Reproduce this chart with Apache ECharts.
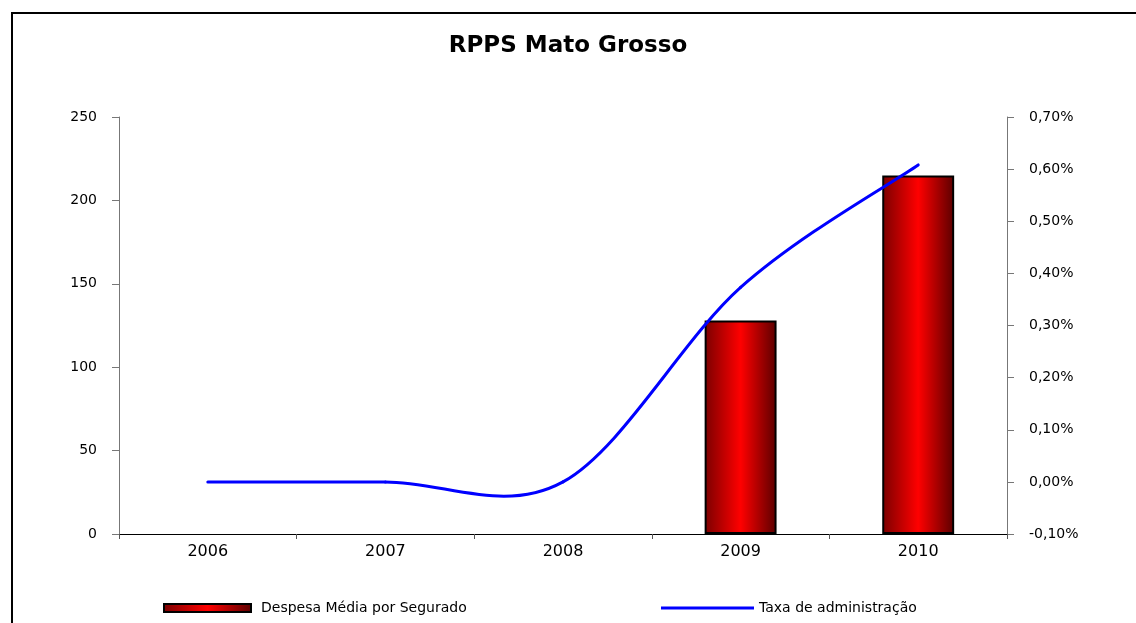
<!DOCTYPE html>
<html>
<head>
<meta charset="utf-8">
<title>RPPS Mato Grosso</title>
<script src="https://cdn.jsdelivr.net/npm/echarts@6/dist/echarts.min.js"></script>
<style>
    html, body { margin: 0; padding: 0; background: #fff; }
    #chart { width: 1136px; height: 623px; }
</style>
</head>
<body>
<div id="chart"></div>
<script>
    // dados
    var anos = ['2006', '2007', '2008', '2009', '2010'];
    var despesaMedia = [null, null, null, 128, 215];
    var taxaAdm = [0.00, 0.00, 0.00, 0.373, 0.608];   // em %

    var nomeBarra = 'Despesa Média por Segurado';
    var nomeLinha = 'Taxa de administração';
    var fonte = 'DejaVu Sans';

    /*
    * curva suavizada (estilo Excel) passando pelos pontos da taxa
    */
    function desenhaCurva(params, api) {
        if (params.dataIndex !== 0) return null;
        var p = taxaAdm.map(function (v, i) { return api.coord([i, v]); });
        var partes = [];
        for (var i = 0; i < p.length - 1; i++) {
            var a = p[i - 1] || p[i], b = p[i], c = p[i + 1], d = p[i + 2] || p[i + 1];
            partes.push({
                type: 'bezierCurve',
                shape: {
                    x1: b[0], y1: b[1], x2: c[0], y2: c[1],
                    cpx1: b[0] + (c[0] - a[0]) / 6, cpy1: b[1] + (c[1] - a[1]) / 6,
                    cpx2: c[0] - (d[0] - b[0]) / 6, cpy2: c[1] - (d[1] - b[1]) / 6
                },
                style: { stroke: '#0000ff', lineWidth: 3, fill: 'none', lineCap: 'round' }
            });
        }
        return { type: 'group', children: partes };
    }

    var corBarra = new echarts.graphic.LinearGradient(0, 0, 1, 0, [
        { offset: 0, color: '#7a0000' },
        { offset: 0.5, color: '#ff0000' },
        { offset: 1, color: '#5a0000' }
    ]);

    var option = {
        animation: false,
        title: {
            text: 'RPPS Mato Grosso',
            left: 'center',
            top: 30,
            textStyle: { fontFamily: fonte, fontSize: 23, fontWeight: 'bold', color: '#000' }
        },
        graphic: [{
            type: 'rect',
            silent: true,
            z: -1,
            shape: { x: 12, y: 13, width: 1300, height: 800 },
            style: { fill: 'none', stroke: '#000', lineWidth: 2 }
        }],
        grid: { left: 119, top: 117, width: 888, height: 417 },
        legend: [
            {
                data: [{ name: nomeBarra, icon: 'rect' }],
                left: 158,
                top: 596,
                itemWidth: 87,
                itemHeight: 8,
                textStyle: { fontFamily: fonte, fontSize: 14, color: '#000', padding: [0, 0, 0, 5] }
            },
            {
                data: [{ name: nomeLinha, icon: 'rect' }],
                left: 656,
                top: 596,
                itemWidth: 93,
                itemHeight: 3,
                textStyle: { fontFamily: fonte, fontSize: 14, color: '#000' }
            }
        ],
        xAxis: {
            type: 'category',
            data: anos,
            axisLine: { lineStyle: { color: '#000', width: 1 } },
            axisTick: { show: true, length: 5, lineStyle: { color: '#555' } },
            axisLabel: { margin: 10, fontFamily: fonte, fontSize: 16, color: '#000' },
            splitLine: { show: false }
        },
        yAxis: [
            {
                type: 'value',
                min: 0,
                max: 250,
                interval: 50,
                axisLine: { show: true, lineStyle: { color: '#777' } },
                axisTick: { show: true, length: 7, lineStyle: { color: '#777' } },
                axisLabel: { margin: 22, fontFamily: fonte, fontSize: 14, color: '#000' },
                splitLine: { show: false }
            },
            {
                type: 'value',
                min: -0.1,
                max: 0.7,
                interval: 0.1,
                position: 'right',
                axisLine: { show: true, lineStyle: { color: '#777' } },
                axisTick: { show: true, length: 7, lineStyle: { color: '#777' } },
                axisLabel: {
                    margin: 22, fontFamily: fonte, fontSize: 14, color: '#000',
                    formatter: function (v) { return v.toFixed(2).replace('.', ',') + '%'; }
                },
                splitLine: { show: false }
            }
        ],
        series: [
            {
                name: nomeBarra,
                type: 'bar',
                data: despesaMedia,
                barWidth: '40.5%',
                itemStyle: { color: corBarra, borderColor: '#000', borderWidth: 2 }
            },
            {
                name: nomeLinha,
                type: 'custom',
                yAxisIndex: 1,
                data: taxaAdm.map(function (v, i) { return [i, v]; }),
                renderItem: desenhaCurva,
                itemStyle: { color: '#0000ff' },
                clip: false,
                z: 3
            }
        ]
    };

    var myChart = echarts.init(document.getElementById('chart'));
    myChart.setOption(option);
</script>
</body>
</html>
